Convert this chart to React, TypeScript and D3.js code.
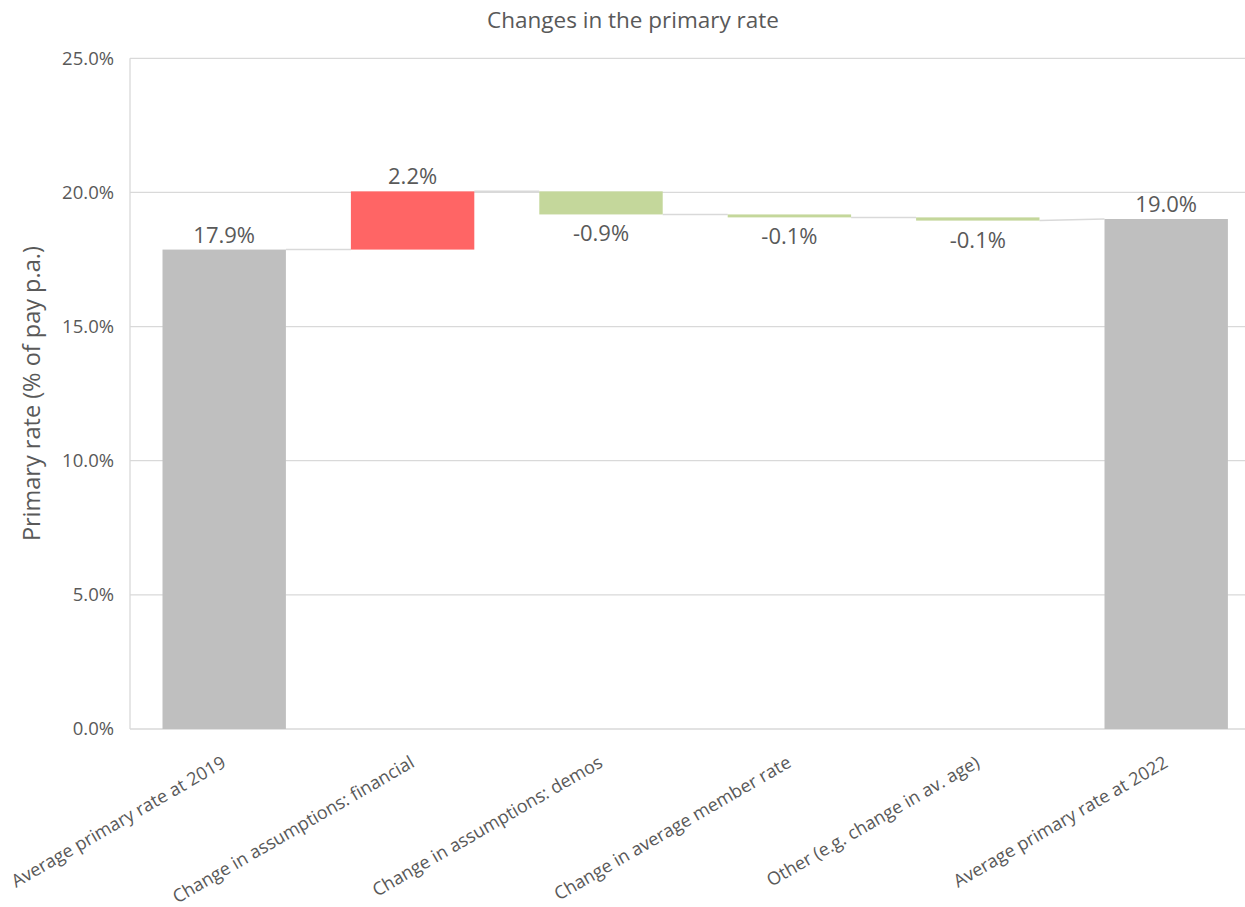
import React from "react";
import * as d3 from "d3";

const categories = [
  "Average primary rate at 2019",
  "Change in assumptions: financial",
  "Change in assumptions: demos",
  "Change in average member rate",
  "Other (e.g. change in av. age)",
  "Average primary rate at 2022",
];
const values = [17.87, 2.17, -0.86, -0.11, -0.12, 19.01];
const isTotal = [true, false, false, false, false, true];
const yTicks = [0, 5, 10, 15, 20, 25];

const W = 1245;
const H = 907;
const FONT = "'Segoe UI', 'Open Sans', sans-serif";
const TEXT = "#595959";
const GRID = "#d9d9d9";

export default function App() {
  const left = 130;
  const step = 188.4;
  const x = d3
    .scaleBand<string>()
    .domain(categories)
    .range([left, left + step * categories.length])
    .paddingInner(0.345)
    .paddingOuter(0.1725);
  const y = d3.scaleLinear().domain([0, 25]).range([729, 58.3]);

  let cum = 0;
  const segs = categories.map((c, i) => {
    let start: number, end: number;
    if (isTotal[i]) {
      start = 0;
      end = values[i];
      cum = values[i];
    } else {
      start = cum;
      end = cum + values[i];
      cum = end;
    }
    return { c, i, start, end, v: values[i] };
  });

  const fill = (s: any) =>
    isTotal[s.i] ? "#bfbfbf" : s.v >= 0 ? "#ff6565" : "#c4d79b";
  const fmt = (v: number) => (Math.round(v * 10) / 10).toFixed(1) + "%";

  const bw = x.bandwidth();

  return (
    <svg
      width={W}
      height={H}
      style={{ position: "absolute", left: 0, top: 0, background: "#fff" }}
      fontFamily={FONT}
    >
      {yTicks.map((t) => (
        <line
          key={"g" + t}
          x1={left}
          x2={W + 20}
          y1={y(t)}
          y2={y(t)}
          stroke={GRID}
          strokeWidth={1.3}
        />
      ))}
      <line x1={left} x2={left} y1={y(25)} y2={y(0)} stroke={GRID} strokeWidth={1.3} />
      {yTicks.map((t) => (
        <text
          key={"t" + t}
          x={114}
          y={y(t)}
          dy="0.35em"
          textAnchor="end"
          fontSize={18.5}
          fill={TEXT}
        >
          {t.toFixed(1) + "%"}
        </text>
      ))}
      {segs.slice(0, -1).map((s, k) => {
        const n = segs[k + 1];
        const nStart = isTotal[n.i] ? n.end : n.start;
        return (
          <line
            key={"c" + k}
            x1={(x(s.c) as number) + bw}
            x2={x(n.c) as number}
            y1={y(s.end)}
            y2={y(nStart)}
            stroke={GRID}
            strokeWidth={1.5}
          />
        );
      })}
      {segs.map((s) => {
        const top = Math.max(s.start, s.end);
        const bot = Math.min(s.start, s.end);
        return (
          <rect
            key={"b" + s.i}
            x={x(s.c)}
            y={y(top)}
            width={bw}
            height={Math.max(1.5, y(bot) - y(top))}
            fill={fill(s)}
          />
        );
      })}
      {segs.map((s) => {
        const cx = (x(s.c) as number) + bw / 2;
        const pos = isTotal[s.i] || s.v >= 0;
        const yy = pos ? y(Math.max(s.start, s.end)) - 7 : y(Math.min(s.start, s.end)) + 27;
        return (
          <text
            key={"l" + s.i}
            x={cx}
            y={yy}
            textAnchor="middle"
            fontSize={22}
            fill={TEXT}
          >
            {fmt(s.v)}
          </text>
        );
      })}
      {categories.map((c) => {
        const cx = (x(c) as number) + bw / 2;
        return (
          <text
            key={"x" + c}
            transform={`translate(${cx + 3},${766}) rotate(-30)`}
            textAnchor="end"
            fontSize={18}
            fill={TEXT}
          >
            {c}
          </text>
        );
      })}
      <text
        transform={`translate(40,${(y(0) + y(25)) / 2}) rotate(-90)`}
        textAnchor="middle"
        fontSize={23.5}
        fill={TEXT}
      >
        Primary rate (% of pay p.a.)
      </text>
      <text x={633} y={28} textAnchor="middle" fontSize={22.5} fill={TEXT}>
        Changes in the primary rate
      </text>
    </svg>
  );
}
